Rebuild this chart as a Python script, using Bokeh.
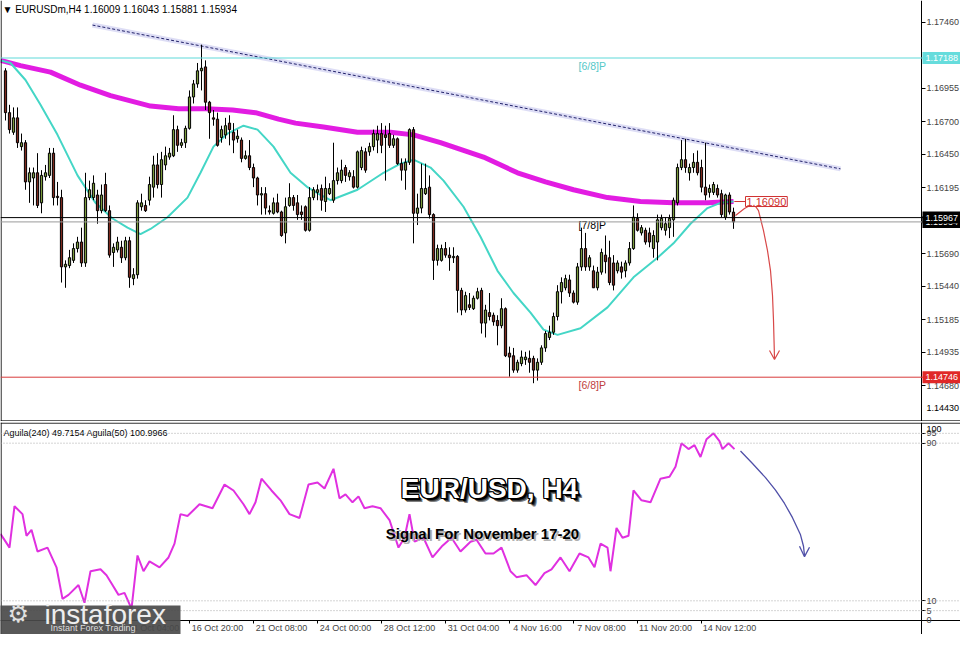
from bokeh.plotting import figure
from bokeh.models import Range1d, FixedTicker, LinearAxis, Label, NumeralTickFormatter, Span
from bokeh.layouts import column
from bokeh.embed import file_html
from bokeh.resources import INLINE
from bokeh.core.properties import value

# ---------------- data ----------------
opens = [1.1709,1.1677,1.1662,1.1673,1.1651,1.1654,1.1624,1.1627,1.1631,1.1608,
1.1628,1.1629,1.1646,1.1613,1.1612,1.1559,1.1560,1.1564,1.1573,1.1578,
1.1562,1.1612,1.1612,1.1614,1.1602,1.1622,1.1602,1.1570,1.1572,1.1574,
1.1566,1.1579,1.1550,1.1553,1.1605,1.1606,1.1610,1.1620,1.1637,1.1622,
1.1637,1.1643,1.1644,1.1664,1.1652,1.1654,1.1665,1.1689,1.1699,1.1709,
1.1712,1.1685,1.1673,1.1672,1.1658,1.1660,1.1669,1.1662,1.1657,1.1656,
1.1642,1.1644,1.1635,1.1627,1.1614,1.1615,1.1602,1.1600,1.1608,1.1601,
1.1585,1.1606,1.1612,1.1608,1.1601,1.1605,1.1587,1.1612,1.1616,1.1619,
1.1609,1.1615,1.1610,1.1625,1.1625,1.1635,1.1628,1.1628,1.1620,1.1635,
1.1647,1.1647,1.1651,1.1656,1.1661,1.1660,1.1661,1.1652,1.1657,1.1638,
1.1633,1.1639,1.1664,1.1600,1.1604,1.1615,1.1620,1.1599,1.1564,1.1564,
1.1573,1.1568,1.1566,1.1567,1.1541,1.1526,1.1530,1.1527,1.1535,1.1541,
1.1516,1.1524,1.1522,1.1518,1.1514,1.1527,1.1493,1.1491,1.1480,1.1485,
1.1488,1.1489,1.1489,1.1480,1.1486,1.1497,1.1505,1.1509,1.1521,1.1540,
1.1543,1.1549,1.1539,1.1532,1.1559,1.1573,1.1559,1.1556,1.1543,1.1555,
1.1568,1.1566,1.1562,1.1556,1.1559,1.1556,1.1562,1.1573,1.1596,1.1585,
1.1587,1.1585,1.1573,1.1578,1.1589,1.1587,1.1589,1.1595,1.1608,1.1635,
1.1641,1.1631,1.1635,1.1639,1.1635,1.1620,1.1616,1.1616,1.1619,1.1615,
1.1597,1.1614,1.16009]
highs = [1.1711,1.1683,1.1681,1.1681,1.1661,1.1656,1.1635,1.1635,1.1646,1.1633,
1.1637,1.1650,1.1650,1.1624,1.1618,1.1564,1.1572,1.1577,1.1582,1.1589,
1.1631,1.1625,1.1629,1.1618,1.1622,1.1631,1.1606,1.1577,1.1582,1.1579,
1.1582,1.1582,1.1558,1.1610,1.1615,1.1610,1.1628,1.1644,1.1646,1.1647,
1.1651,1.1650,1.1675,1.1667,1.1657,1.1667,1.1694,1.1702,1.1715,1.1729,
1.1717,1.1686,1.1679,1.1677,1.1667,1.1673,1.1675,1.1669,1.1664,1.1658,
1.1648,1.1656,1.1638,1.1628,1.1620,1.1620,1.1606,1.1612,1.1615,1.1602,
1.1612,1.1623,1.1614,1.1614,1.1606,1.1606,1.1620,1.1620,1.1622,1.1622,
1.1628,1.1623,1.1654,1.1635,1.1641,1.1637,1.1633,1.1633,1.1648,1.1651,
1.1650,1.1654,1.1664,1.1667,1.1669,1.1667,1.1669,1.1660,1.1658,1.1642,
1.1642,1.1665,1.1666,1.1615,1.1638,1.1638,1.1629,1.1600,1.1576,1.1576,
1.1578,1.1574,1.1574,1.1568,1.1543,1.1540,1.1539,1.1537,1.1543,1.1543,
1.1530,1.1539,1.1524,1.1522,1.1535,1.1528,1.1498,1.1497,1.1488,1.1495,
1.1494,1.1495,1.1491,1.1489,1.1499,1.1510,1.1514,1.1524,1.1545,1.1551,
1.1553,1.1553,1.1541,1.1562,1.1589,1.1585,1.1568,1.1560,1.1559,1.1573,
1.1583,1.1579,1.1568,1.1564,1.1563,1.1564,1.1578,1.1606,1.1600,1.1591,
1.1589,1.1589,1.1587,1.1599,1.1599,1.1597,1.1599,1.1612,1.1638,1.1656,
1.1657,1.1638,1.1646,1.1648,1.1641,1.1654,1.1622,1.1624,1.1622,1.1618,
1.1615,1.1616,1.16043]
lows = [1.1671,1.1661,1.1660,1.1650,1.1648,1.1618,1.1608,1.1606,1.1604,1.1600,
1.1625,1.1627,1.1606,1.1606,1.1547,1.1543,1.1558,1.1562,1.1570,1.1559,
1.1559,1.1610,1.1610,1.1592,1.1600,1.1601,1.1566,1.1559,1.1570,1.1562,
1.1564,1.1543,1.1545,1.1550,1.1602,1.1601,1.1606,1.1612,1.1619,1.1612,
1.1633,1.1641,1.1643,1.1647,1.1650,1.1650,1.1664,1.1684,1.1696,1.1694,
1.1679,1.1657,1.1667,1.1651,1.1654,1.1657,1.1652,1.1646,1.1654,1.1639,
1.1641,1.1633,1.1620,1.1606,1.1599,1.1599,1.1599,1.1599,1.1600,1.1582,
1.1577,1.1605,1.1602,1.1595,1.1595,1.1586,1.1586,1.1610,1.1610,1.1602,
1.1601,1.1614,1.1608,1.1622,1.1623,1.1624,1.1625,1.1619,1.1619,1.1633,
1.1631,1.1644,1.1648,1.1646,1.1646,1.1625,1.1650,1.1650,1.1637,1.1625,
1.1618,1.1637,1.1577,1.1591,1.1600,1.1614,1.1596,1.1549,1.1560,1.1563,
1.1566,1.1556,1.1562,1.1524,1.1522,1.1524,1.1526,1.1526,1.1534,1.1508,
1.1505,1.1518,1.1514,1.1499,1.1512,1.1490,1.1475,1.1478,1.1478,1.1483,
1.1484,1.1478,1.1470,1.1472,1.1484,1.1494,1.1503,1.1507,1.1518,1.1531,
1.1541,1.1536,1.1531,1.1530,1.1556,1.1556,1.1556,1.1543,1.1541,1.1553,
1.1554,1.1545,1.1541,1.1554,1.1550,1.1551,1.1560,1.1572,1.1586,1.1583,
1.1576,1.1574,1.1566,1.1564,1.1587,1.1583,1.1581,1.1582,1.1606,1.1633,
1.1631,1.1625,1.1631,1.1629,1.1616,1.1610,1.1612,1.1614,1.1612,1.1597,
1.1595,1.1599,1.15881]
closes = [1.1677,1.1664,1.1673,1.1654,1.1654,1.1624,1.1631,1.1631,1.1606,1.1629,
1.1631,1.1646,1.1612,1.1612,1.1559,1.1561,1.1566,1.1573,1.1578,1.1562,
1.1612,1.1618,1.1623,1.1602,1.1614,1.1602,1.1568,1.1574,1.1578,1.1566,
1.1579,1.1551,1.1553,1.1608,1.1608,1.1602,1.1622,1.1637,1.1622,1.1641,
1.1644,1.1646,1.1664,1.1652,1.1654,1.1665,1.1689,1.1699,1.1709,1.1711,
1.1685,1.1677,1.1672,1.1652,1.1664,1.1667,1.1664,1.1656,1.1659,1.1642,
1.1644,1.1635,1.1627,1.1614,1.1615,1.1604,1.1601,1.1608,1.1601,1.1583,
1.1605,1.1612,1.1606,1.1599,1.1599,1.1587,1.1612,1.1618,1.1618,1.1610,
1.1619,1.1619,1.1625,1.1631,1.1633,1.1629,1.1631,1.1620,1.1647,1.1648,
1.1633,1.1651,1.1661,1.1661,1.1652,1.1658,1.1652,1.1657,1.1638,1.1633,
1.1639,1.1664,1.1600,1.1604,1.1619,1.1619,1.1599,1.1564,1.1573,1.1573,
1.1568,1.1566,1.1567,1.1541,1.1526,1.1537,1.1528,1.1535,1.1540,1.1516,
1.1526,1.1521,1.1517,1.1514,1.1527,1.1491,1.1490,1.1480,1.1486,1.1490,
1.1490,1.1486,1.1480,1.1486,1.1497,1.1508,1.1509,1.1521,1.1540,1.1547,
1.1550,1.1539,1.1532,1.1559,1.1573,1.1559,1.1566,1.1543,1.1555,1.1570,
1.1563,1.1547,1.1545,1.1562,1.1555,1.1562,1.1573,1.1597,1.1587,1.1589,
1.1578,1.1578,1.1583,1.1595,1.1596,1.1592,1.1596,1.1610,1.1635,1.1641,
1.1635,1.1635,1.1639,1.1631,1.1620,1.1614,1.1619,1.1622,1.1614,1.1599,
1.1614,1.1601,1.15934]

ma200_x = [-1.25,3.75,11.25,18.75,26.25,36.25,43.25,50,56.75,62.5,68.25,72.5,79.5,88,
           96.25,102,108.75,119.5,128,135,142,150.5,158.75,167,175.5,182]
ma200_y = [1.1717,1.1713,1.1708,1.1698,1.1690,1.1682,1.1680,1.1680,1.1679,1.1677,1.1672,
           1.1669,1.1666,1.1662,1.1662,1.1660,1.1654,1.1643,1.1631,1.1624,1.1618,1.1612,
           1.1609,1.1608,1.1608,1.1609]
ma50_x = [-1.25,1.25,5,8.75,13,18,22.5,26.75,30.5,33.75,36.25,40.5,45.5,48.75,52,55.5,59.5,
          63,67,71.25,75.5,78.75,81.25,88,94.5,98.75,102,106.25,109.5,114.5,118.75,123,127,
          131.25,134.5,138,143.75,150.5,157,163,167,171.25,175.5,178.75,182]
ma50_y = [1.1717,1.1715,1.1702,1.1683,1.1660,1.1629,1.1608,1.1596,1.1589,1.1584,1.1588,
          1.1597,1.1612,1.1631,1.1651,1.1661,1.1667,1.1664,1.1651,1.1631,1.1620,1.1614,
          1.1610,1.1618,1.1631,1.1638,1.1641,1.1635,1.1625,1.1605,1.1582,1.1556,1.1539,
          1.1524,1.1511,1.1507,1.1512,1.1528,1.1551,1.1566,1.1577,1.1592,1.1604,1.1608,1.1609]

ind_x = [-1.25,1,2.25,4.25,5.25,6.5,8,10.5,12.75,14.25,
         15.75,18.25,19.75,21.25,23.75,25.25,26.75,28.25,29.75,31.5,
         33,34.5,36,38.5,40.75,42.25,43.75,45.5,48.5,51.75,
         54.75,57,59.5,61,62.5,64,66.5,68.75,71,73.5,
         75.75,78,79.75,82,83.5,85,86.75,88.25,89.75,91.75,
         93.75,96,98.25,99.75,101,102.25,104.5,106.75,109.25,111.5,
         113.75,116.25,117.75,120,122,124,126.25,127.75,130.25,132.5,
         134.75,136.5,138.75,141,143.5,145.75,147.25,148.75,150.5,151.25,
         152.75,154.25,155.75,157,159,161.25,163.75,166,167.5,169,
         170.75,172.25,173.75,175.25,177,178.5,179.25,180.75,182.25]
ind_v = [44,37,58,54,43,46,35,37,27,11,
         13,18,9,25,26,23,18,13,14,6,
         33,25,30,27,32,39,54,53,59,57,
         69,66,59,54,60,72,66,61,54,52,
         69,70,67,77,62,64,60,63,57,58,
         57,51,37,42,54,40,42,32,38,42,
         35,40,41,34,34,37,25,22,23,18,
         24,26,32,25,34,32,27,39,37,25,
         47,42,43,66,61,60,72,73,78,90,
         87,89,83,92,95,91,87,90,87]

price_ticks = [1.17460,1.16955,1.16700,1.16450,1.16195,1.15690,1.15440,1.15185,1.14935,1.14680,1.14430]
ind_ticks = [0,5,10,90,95,100]
ind_levels = [95,90,10,5]
time_idx = [14,30,46,62,78,94,110,126,142,158,174]
time_labels = ["10 Oct 2025","14 Oct 04:00","16 Oct 20:00","21 Oct 08:00","24 Oct 00:00",
               "28 Oct 12:00","31 Oct 04:00","4 Nov 16:00","7 Nov 08:00","11 Nov 20:00","14 Nov 12:00"]

level_top, level_mid, level_bot = 1.17188, 1.15967, 1.14746
last_close = 1.15934
marked_price = 1.16090
trend_x = [21.75, 208.75]
trend_y = [1.1744, 1.1634]

red_arrow_x = [182.5,184.75,187,188.25,189.5,190.5,191.25,191.75,192,192.25]
red_arrow_y = [1.15983,1.16036,1.16075,1.16021,1.15868,1.15715,1.15562,1.15371,1.15179,1.14889]
red_head_x = [191,192.25,193.5]
red_head_y = [1.14950,1.14881,1.14950]
blue_arrow_x = [183.75,186.75,190,192.5,194.75,196.75,198.75,199.5,199.75]
blue_arrow_y = [86.0,79.7,72.5,66.2,59.4,52.2,43.5,37.7,32.9]
blue_head_x = [198.5,199.75,201]
blue_head_y = [37.7,32.4,37.2]

# ---------------- layout constants ----------------
FONT = "Liberation Sans"
PX = 0.25                       # bar units per pixel (4 px per bar)
X0 = -1.25
X1 = X0 + 960 * PX              # frame spans the full width
AXIS_X = X0 + 921 * PX          # price scale line
P_TOP, P_BOT = 1.17628, 1.14407
PPX = (P_TOP - P_BOT) / 421.0   # price per pixel

# ---------------- main price panel ----------------
p = figure(width=960, height=421, output_backend="svg", toolbar_location=None,
           x_range=Range1d(X0, X1), y_range=Range1d(P_BOT, P_TOP),
           min_border_left=0, min_border_right=0, min_border_top=0, min_border_bottom=0,
           x_axis_location=None, y_axis_location=None)
p.grid.visible = False
p.outline_line_color = None
p.background_fill_color = "white"
p.border_fill_color = "white"

ax = LinearAxis(fixed_location=AXIS_X, ticker=FixedTicker(ticks=price_ticks[:-1]),
                formatter=NumeralTickFormatter(format="0.00000"),
                major_label_text_font=FONT, major_label_text_font_size="9px",
                major_tick_out=4, major_tick_in=0, minor_tick_out=0, minor_tick_in=0,
                major_label_standoff=1, axis_line_color="black", major_tick_line_color="black")
p.add_layout(ax, "right")
p.text(x=[AXIS_X + 5 * PX], y=[price_ticks[-1] + 10 * PPX], text=["%.5f" % price_ticks[-1]],
       text_font=value(FONT), text_font_size="9px", text_color="black",
       text_baseline="middle", text_align="left")

# panel borders
p.add_layout(Span(location=X0 + 0.6 * PX, dimension="height", line_color="black", line_width=1))
p.add_layout(Span(location=P_BOT + 0.6 * PPX, dimension="width", line_color="black", line_width=1))

# horizontal levels
p.add_layout(Span(location=level_top, dimension="width", line_color="#5fd9d9", line_width=1))
p.add_layout(Span(location=level_bot, dimension="width", line_color="#d83a3a", line_width=1))
p.add_layout(Span(location=last_close, dimension="width", line_color="#9a9a9a", line_width=1))
p.add_layout(Span(location=level_mid, dimension="width", line_color="black", line_width=1))

# trend line
p.line(trend_x, trend_y, line_color="#d4d4f2", line_width=5, line_alpha=0.8)
p.line(trend_x, trend_y, line_color="#22226a", line_width=1, line_dash="3 2")

# moving averages
p.line(ma200_x, ma200_y, line_color="#e010e0", line_width=5, line_alpha=0.95)
p.line(ma50_x, ma50_y, line_color="#44d6c6", line_width=2)

# candles
idx = list(range(len(closes)))
body_top = [max(o, c) for o, c in zip(opens, closes)]
body_bot = [min(o, c) for o, c in zip(opens, closes)]
colors = ["#7a9a3c" if c >= o else "#7e2a1e" for o, c in zip(opens, closes)]
p.segment(x0=idx, y0=lows, x1=idx, y1=highs, line_color="black", line_width=1)
p.vbar(x=idx, top=body_top, bottom=body_bot, width=0.55, fill_color=colors, line_color="black", line_width=1)

# level texts
p.text(x=[143.25], y=[level_top - 2 * PPX], text=["[6/8]P"], text_font=value(FONT), text_font_size="10.5px",
       text_color="#55c8c8", text_baseline="top", text_align="left")
p.text(x=[143.25], y=[level_mid - 1 * PPX], text=["[7/8]P"], text_font=value(FONT), text_font_size="10.5px",
       text_color="black", text_baseline="top", text_align="left")
p.text(x=[143.25], y=[level_bot - 2 * PPX], text=["[6/8]P"], text_font=value(FONT), text_font_size="10.5px",
       text_color="#c04040", text_baseline="top", text_align="left")

# header
p.text(x=[-0.75], y=[P_TOP - 9 * PPX], text=["\u25bc EURUSDm,H4  1.16009 1.16043 1.15881 1.15934"],
       text_font=value(FONT), text_font_size="10px", text_color="black",
       text_baseline="middle", text_align="left")

# red marker and arrow
p.line([182.2, 184.9], [marked_price, marked_price], line_color="#d03030", line_width=1)
p.add_layout(Label(x=185, y=marked_price, text="1.16090", text_font=FONT, text_font_size="11px",
                   text_color="#d03030", text_baseline="middle", background_fill_color="white",
                   border_line_color="#d03030", padding=1))
p.line(red_arrow_x, red_arrow_y, line_color="#d84848", line_width=1.2)
p.line(red_head_x, red_head_y, line_color="#d84848", line_width=1.2)

# price tags on the scale
tag_vals = [level_top, level_bot, last_close, level_mid]
tag_cols = ["#66dcdc", "#e02828", "black", "black"]
for v, col in zip(tag_vals, tag_cols):
    p.quad(left=[AXIS_X + 1 * PX], right=[X1], bottom=[v - 6 * PPX], top=[v + 6 * PPX],
           fill_color=col, line_color=None, level="overlay")
    p.text(x=[AXIS_X + 4 * PX], y=[v], text=["%.5f" % v], text_font=value(FONT), text_font_size="9px",
           text_color="white", text_baseline="middle", text_align="left", level="overlay")

# ---------------- indicator panel ----------------
# val -> page y:  620 - 1.97 * val
VPX = 1 / 1.97
q = figure(width=960, height=213, output_backend="svg", toolbar_location=None,
           x_range=p.x_range, y_range=Range1d(-14 * VPX, 100.5),
           min_border_left=0, min_border_right=0, min_border_top=1, min_border_bottom=0,
           x_axis_location=None, y_axis_location=None)
q.grid.visible = False
q.outline_line_color = None
q.background_fill_color = "white"
q.border_fill_color = "white"

ax2 = LinearAxis(fixed_location=AXIS_X, ticker=FixedTicker(ticks=ind_ticks[:-1]), major_label_text_font=FONT,
                 major_label_text_font_size="9px", major_tick_out=4, major_tick_in=0,
                 minor_tick_out=0, minor_tick_in=0, major_label_standoff=1, axis_line_color="black")
q.add_layout(ax2, "right")
q.text(x=[AXIS_X + 5 * PX], y=[ind_ticks[-1] - 6 * VPX], text=[str(ind_ticks[-1])], text_font=value(FONT),
       text_font_size="9px", text_color="black", text_baseline="middle", text_align="left")

tax = LinearAxis(fixed_location=0, ticker=FixedTicker(ticks=[t + 7 for t in time_idx], minor_ticks=time_idx),
                 major_label_overrides={t + 7: lab for t, lab in zip(time_idx, time_labels)},
                 major_label_text_font=FONT, major_label_text_font_size="9px",
                 major_tick_out=0, major_tick_in=0, minor_tick_out=3, minor_tick_in=0,
                 major_label_standoff=0, axis_line_color="black", minor_tick_line_color="black")
q.add_layout(tax, "below")

# borders
q.add_layout(Span(location=X0 + 0.6 * PX, dimension="height", line_color="black", line_width=1))
q.add_layout(Span(location=100.5 - 0.6 * VPX, dimension="width", line_color="black", line_width=1))

for lv in ind_levels:
    q.add_layout(Span(location=lv, dimension="width", line_color="#a8a8a8", line_width=1, line_dash="1 2"))

q.line(ind_x, ind_v, line_color="#e030e0", line_width=2)

q.text(x=[-0.5], y=[95.4], text=["Aguila(240) 49.7154  Aguila(50) 100.9966"], text_font=value(FONT),
       text_font_size="9px", text_color="black", text_baseline="middle", text_align="left")

# big title with outline / shadow
tx, ty = 121, 67.0
for dx, dy, col in [(4, 4, "#808080"), (3, 3, "#3a3a3a"), (-1, 0, "black"), (1, 0, "black"),
                    (0, -1, "black"), (0, 1, "black"), (-1, -1, "black"), (1, 1, "black"),
                    (1, -1, "black"), (-1, 1, "black"), (2, 2, "black")]:
    q.text(x=[tx], y=[ty], text=["EUR/USD, H4"], x_offset=dx, y_offset=dy, text_font=value(FONT),
           text_font_style="bold", text_font_size="28px", text_color=col,
           text_align="center", text_baseline="middle")
q.text(x=[tx], y=[ty], text=["EUR/USD, H4"], text_font=value(FONT), text_font_style="bold",
       text_font_size="28px", text_color="white", text_align="center", text_baseline="middle")

sx, sy = 119.25, 44.2
q.text(x=[sx], y=[sy], text=["Signal For November 17-20"], x_offset=2, y_offset=2, text_font=value(FONT),
       text_font_style="bold", text_font_size="15px", text_color="#b0b0b0",
       text_align="center", text_baseline="middle")
q.text(x=[sx], y=[sy], text=["Signal For November 17-20"], text_font=value(FONT),
       text_font_style="bold", text_font_size="15px", text_color="black",
       text_align="center", text_baseline="middle")

# blue arrow
q.line(blue_arrow_x, blue_arrow_y, line_color="#5050a8", line_width=1.3)
q.line(blue_head_x, blue_head_y, line_color="#5050a8", line_width=1.3)

# logo overlay
q.quad(left=[X0], right=[X0 + 180 * PX], bottom=[-20], top=[15 * VPX], fill_color="#4a4a4a", fill_alpha=0.92,
       line_color=None, level="overlay")
q.text(x=[X0 + 7 * PX], y=[6 * VPX], text=["\u2699"], text_font=value("DejaVu Sans"), text_font_size="24px",
       text_color="#e0e0e0", text_baseline="middle", text_align="left", level="overlay")
q.text(x=[X0 + 44 * PX], y=[6 * VPX], text=["instaforex"], text_font=value(FONT), text_font_size="28px",
       text_color="#eeeeee", text_baseline="middle", text_align="left", level="overlay")
q.text(x=[X0 + 50 * PX], y=[-8 * VPX], text=["Instant Forex Trading"], text_font=value(FONT), text_font_size="9px",
       text_color="#dddddd", text_baseline="middle", text_align="left", level="overlay")

layout = column(p, q, spacing=0)
open("out.html", "w").write(file_html(layout, INLINE))
